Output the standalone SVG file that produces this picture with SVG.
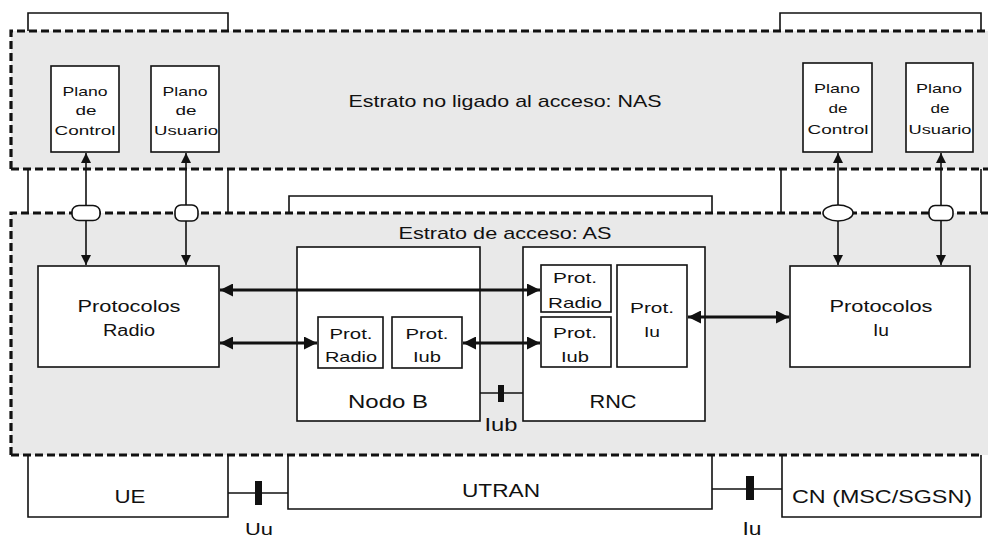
<svg xmlns="http://www.w3.org/2000/svg" width="988" height="540" viewBox="0 0 988 540">
<style>
.t{font-family:"Liberation Sans",Arial,sans-serif;fill:#111;text-anchor:middle}
.box{fill:#fff;stroke:#111;stroke-width:1.6}
.ln{fill:none;stroke:#111;stroke-width:1.6}
.dash{fill:none;stroke:#111;stroke-width:3.2;stroke-dasharray:8 4}
.thin{fill:none;stroke:#111;stroke-width:1.6;marker-start:url(#as);marker-end:url(#as)}
.thick{fill:none;stroke:#111;stroke-width:3;marker-start:url(#al);marker-end:url(#al)}
.tick{fill:#111}
.oval{fill:#fff;stroke:#111;stroke-width:1.6}
</style>
<defs>
<marker id="as" viewBox="0 0 10 10" refX="10" refY="5" markerWidth="10" markerHeight="10" markerUnits="userSpaceOnUse" orient="auto-start-reverse"><path d="M0,0 L10,5 L0,10 z" fill="#111"/></marker>
<marker id="al" viewBox="0 0 12 12" refX="12" refY="6" markerWidth="13" markerHeight="13" markerUnits="userSpaceOnUse" orient="auto-start-reverse"><path d="M0,0 L12,6 L0,12 z" fill="#111"/></marker>
</defs>
<rect width="988" height="540" fill="#fff"/>

<g id="nas">
<rect x="11" y="31" width="977" height="138" fill="#e9e9e9"/>
<path class="ln" d="M28,31 V13 H228 V31 M780,31 V13 H981 V31"/>
<path class="dash" d="M11,169 V31 H988 M11,169 H988"/>
<text class="t" x="505" y="107" font-size="17" textLength="313" lengthAdjust="spacingAndGlyphs">Estrato no ligado al acceso: NAS</text>
</g>

<g id="gap">
<path class="ln" d="M28,169 V213 M228,169 V213 M781,169 V213 M981,169 V213"/>
</g>

<g id="as">
<rect x="11" y="213" width="977" height="242" fill="#e9e9e9"/>
<path class="ln" d="M289,213 V196 H712 V213"/>
<path class="dash" d="M11,455 V213 H988 M11,455 H981"/>
<text class="t" x="505" y="239" font-size="17" textLength="213" lengthAdjust="spacingAndGlyphs">Estrato de acceso: AS</text>
</g>

<g id="plano-control-ue">
<rect class="box" x="51" y="66" width="68" height="86"/>
<text class="t" font-size="13"><tspan x="85" y="96" textLength="45" lengthAdjust="spacingAndGlyphs">Plano</tspan><tspan x="86" y="115" textLength="21" lengthAdjust="spacingAndGlyphs">de</tspan><tspan x="85" y="135" textLength="61" lengthAdjust="spacingAndGlyphs">Control</tspan></text>
</g>
<g id="plano-usuario-ue">
<rect class="box" x="151" y="66" width="68" height="86"/>
<text class="t" font-size="13"><tspan x="185" y="96" textLength="45" lengthAdjust="spacingAndGlyphs">Plano</tspan><tspan x="186" y="115" textLength="21" lengthAdjust="spacingAndGlyphs">de</tspan><tspan x="186" y="135" textLength="64" lengthAdjust="spacingAndGlyphs">Usuario</tspan></text>
</g>
<g id="plano-control-cn">
<rect class="box" x="803" y="63" width="69" height="89"/>
<text class="t" font-size="13"><tspan x="837" y="93" textLength="46" lengthAdjust="spacingAndGlyphs">Plano</tspan><tspan x="838" y="113" textLength="19" lengthAdjust="spacingAndGlyphs">de</tspan><tspan x="838" y="134" textLength="61" lengthAdjust="spacingAndGlyphs">Control</tspan></text>
</g>
<g id="plano-usuario-cn">
<rect class="box" x="906" y="63" width="67" height="89"/>
<text class="t" font-size="13"><tspan x="939" y="93" textLength="46" lengthAdjust="spacingAndGlyphs">Plano</tspan><tspan x="940" y="113" textLength="19" lengthAdjust="spacingAndGlyphs">de</tspan><tspan x="940" y="134" textLength="63" lengthAdjust="spacingAndGlyphs">Usuario</tspan></text>
</g>

<g id="protocolos-radio">
<rect class="box" x="38" y="266" width="181" height="101"/>
<text class="t" font-size="16"><tspan x="129" y="312" textLength="103" lengthAdjust="spacingAndGlyphs">Protocolos</tspan><tspan x="129" y="336" textLength="52" lengthAdjust="spacingAndGlyphs">Radio</tspan></text>
</g>

<g id="nodo-b">
<rect class="box" x="297" y="247" width="183" height="174"/>
<text class="t" x="388" y="408" font-size="19" textLength="80" lengthAdjust="spacingAndGlyphs">Nodo B</text>
</g>
<g id="nodo-b-prot-radio">
<rect class="box" x="318" y="317" width="65" height="51"/>
<text class="t" font-size="15"><tspan x="351" y="339" textLength="43" lengthAdjust="spacingAndGlyphs">Prot.</tspan><tspan x="351" y="362" textLength="52" lengthAdjust="spacingAndGlyphs">Radio</tspan></text>
</g>
<g id="nodo-b-prot-iub">
<rect class="box" x="392" y="317" width="70" height="51"/>
<text class="t" font-size="15"><tspan x="427" y="339" textLength="43" lengthAdjust="spacingAndGlyphs">Prot.</tspan><tspan x="427" y="362" textLength="28" lengthAdjust="spacingAndGlyphs">Iub</tspan></text>
</g>

<g id="rnc">
<rect class="box" x="523" y="247" width="182" height="174"/>
<text class="t" x="613" y="408" font-size="19" textLength="47" lengthAdjust="spacingAndGlyphs">RNC</text>
</g>
<g id="rnc-prot-radio">
<rect class="box" x="541" y="265" width="70" height="47"/>
<text class="t" font-size="15"><tspan x="575" y="283" textLength="44" lengthAdjust="spacingAndGlyphs">Prot.</tspan><tspan x="575" y="308" textLength="54" lengthAdjust="spacingAndGlyphs">Radio</tspan></text>
</g>
<g id="rnc-prot-iub">
<rect class="box" x="541" y="317" width="70" height="50"/>
<text class="t" font-size="15"><tspan x="575" y="338" textLength="44" lengthAdjust="spacingAndGlyphs">Prot.</tspan><tspan x="575" y="362" textLength="28" lengthAdjust="spacingAndGlyphs">Iub</tspan></text>
</g>
<g id="rnc-prot-iu">
<rect class="box" x="617" y="265" width="70" height="102"/>
<text class="t" font-size="15"><tspan x="652" y="313" textLength="44" lengthAdjust="spacingAndGlyphs">Prot.</tspan><tspan x="652" y="337" textLength="16" lengthAdjust="spacingAndGlyphs">Iu</tspan></text>
</g>

<g id="protocolos-iu">
<rect class="box" x="790" y="266" width="180" height="101"/>
<text class="t" font-size="16"><tspan x="881" y="312" textLength="103" lengthAdjust="spacingAndGlyphs">Protocolos</tspan><tspan x="881" y="336" textLength="16" lengthAdjust="spacingAndGlyphs">Iu</tspan></text>
</g>

<g id="ue">
<path class="ln" d="M28,455 V517 H228 V455"/>
<text class="t" x="130" y="503" font-size="19" textLength="31" lengthAdjust="spacingAndGlyphs">UE</text>
</g>
<g id="utran">
<path class="ln" d="M288,455 V509 H712 V455"/>
<text class="t" x="501" y="497" font-size="19" textLength="78" lengthAdjust="spacingAndGlyphs">UTRAN</text>
</g>
<g id="cn">
<path class="ln" d="M782,455 V517 H981 V455"/>
<text class="t" x="882" y="503" font-size="18" textLength="180" lengthAdjust="spacingAndGlyphs">CN (MSC/SGSN)</text>
</g>

<g id="connectors">
<line class="thin" x1="86" y1="153" x2="86" y2="265"/>
<line class="thin" x1="186" y1="153" x2="186" y2="265"/>
<line class="thin" x1="838" y1="153" x2="838" y2="265"/>
<line class="thin" x1="941" y1="153" x2="941" y2="265"/>
<rect class="oval" x="72" y="205.5" width="28" height="15" rx="7" ry="6"/>
<rect class="oval" x="175" y="205" width="23" height="16" rx="6" ry="6"/>
<ellipse class="oval" cx="838" cy="213" rx="15" ry="8"/>
<rect class="oval" x="929" y="205.5" width="24" height="15" rx="6" ry="6"/>
<line class="thick" x1="220" y1="290" x2="540" y2="290"/>
<line class="thick" x1="220" y1="343" x2="317" y2="343"/>
<line class="thick" x1="463" y1="343" x2="540" y2="343"/>
<line class="thick" x1="688" y1="317" x2="789" y2="317"/>
<line class="ln" stroke-width="2.4" x1="480" y1="393" x2="523" y2="393"/>
<rect class="tick" x="498" y="385" width="6" height="17"/>
<text class="t" x="501" y="431" font-size="18" textLength="33" lengthAdjust="spacingAndGlyphs">Iub</text>
<line class="ln" stroke-width="2.4" x1="228" y1="493" x2="288" y2="493"/>
<rect class="tick" x="255" y="481" width="7" height="24"/>
<text class="t" x="259" y="535" font-size="17" textLength="28" lengthAdjust="spacingAndGlyphs">Uu</text>
<line class="ln" stroke-width="2.4" x1="712" y1="489" x2="782" y2="489"/>
<rect class="tick" x="746" y="476" width="8" height="24"/>
<text class="t" x="752" y="535" font-size="18" textLength="19" lengthAdjust="spacingAndGlyphs">Iu</text>
</g>
</svg>
